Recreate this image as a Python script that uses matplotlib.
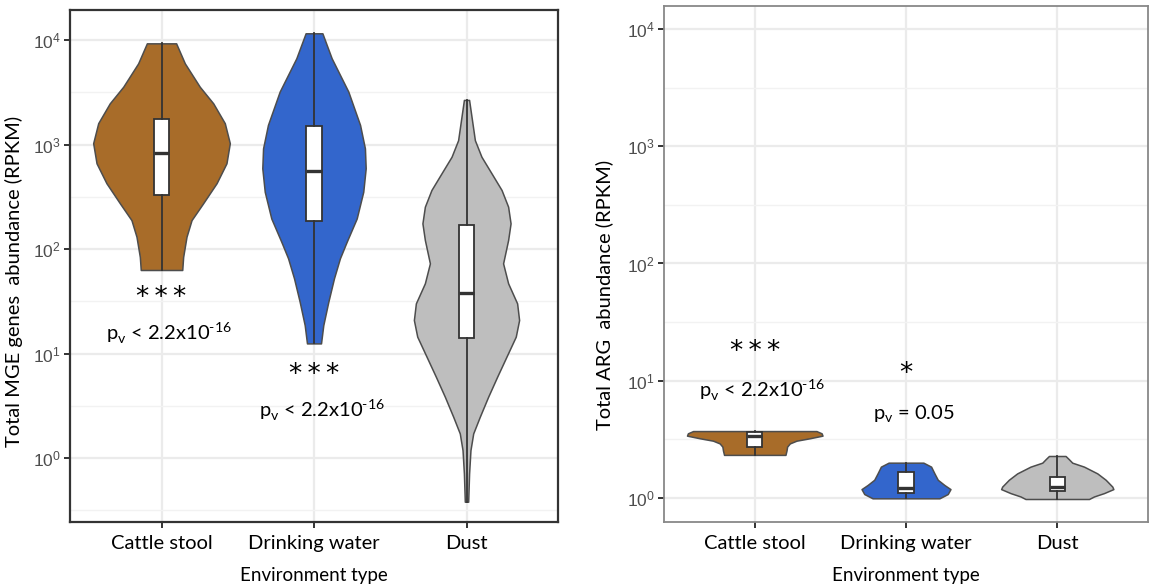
import matplotlib
matplotlib.use("Agg")
import matplotlib.pyplot as plt
import numpy as np
from matplotlib.ticker import FixedLocator, NullFormatter

# ---------------- data ----------------
categories = ["Cattle stool", "Drinking water", "Dust"]
colors = ["#A86C29", "#3366CC", "#BEBEBE"]

# Left panel: total MGE genes abundance (RPKM) - violin profiles (value, half-width)
mge_cattle_vals = [9290, 5980, 3570, 2480, 1600, 1030, 661, 426, 274, 189, 131, 84, 63]
mge_cattle_hw = [0.096, 0.153, 0.251, 0.339, 0.415, 0.448, 0.426, 0.361, 0.273, 0.197, 0.164, 0.142, 0.136]
mge_water_vals = [11590, 6680, 3210, 1540, 918, 592, 353, 196, 117, 81.5, 52.4, 31.3, 18.7, 12.5]
mge_water_hw = [0.055, 0.116, 0.225, 0.302, 0.334, 0.339, 0.323, 0.280, 0.214, 0.170, 0.131, 0.094, 0.061, 0.046]
mge_dust_vals = [2670, 1100, 764, 530, 367, 254, 176, 122, 72.9, 47.0, 30.2, 20.9, 14.5, 9.33, 6.0, 3.86,
                 2.48, 1.72, 1.19, 0.713, 0.382]
mge_dust_hw = [0.017, 0.055, 0.098, 0.164, 0.230, 0.273, 0.289, 0.273, 0.240, 0.273, 0.332, 0.345, 0.323,
               0.262, 0.201, 0.142, 0.087, 0.044, 0.026, 0.017, 0.011]
# box stats: (min, q1, median, q3, max)
mge_box = [(63, 329, 825, 1750, 9290),
           (12.5, 187, 557, 1514, 11590),
           (0.382, 14, 37.7, 170, 2670)]

# Right panel: total ARG abundance (RPKM)
arg_cattle_vals = [3.72, 3.56, 3.40, 3.23, 3.08, 2.92, 2.74, 2.54, 2.33]
arg_cattle_hw = [0.408, 0.442, 0.448, 0.364, 0.276, 0.232, 0.214, 0.210, 0.203]
arg_water_vals = [2.00, 1.85, 1.62, 1.43, 1.29, 1.19, 1.08, 0.993]
arg_water_hw = [0.115, 0.166, 0.188, 0.210, 0.254, 0.294, 0.276, 0.221]
arg_dust_vals = [2.28, 2.14, 2.00, 1.85, 1.62, 1.43, 1.25, 1.19, 1.10, 1.03, 0.98]
arg_dust_hw = [0.055, 0.077, 0.099, 0.177, 0.265, 0.320, 0.364, 0.371, 0.309, 0.243, 0.210]
arg_box = [(2.33, 2.70, 3.40, 3.63, 3.72),
           (0.993, 1.10, 1.22, 1.66, 2.00),
           (0.98, 1.15, 1.25, 1.52, 2.28)]

mge_profiles = [(mge_cattle_vals, mge_cattle_hw), (mge_water_vals, mge_water_hw), (mge_dust_vals, mge_dust_hw)]
arg_profiles = [(arg_cattle_vals, arg_cattle_hw), (arg_water_vals, arg_water_hw), (arg_dust_vals, arg_dust_hw)]

P_TXT = r"p$_{\mathdefault{v}}$ < 2.2x10$^{\mathdefault{‐16}}$"
STARS3 = "*\u2009*\u2009*"
# annotations: (category index, y value, text)
mge_stars = [(0, 34, STARS3), (1, 6.2, STARS3)]
mge_pvals = [(0, 15.5, P_TXT), (1, 2.85, P_TXT)]
arg_stars = [(0, 17.5, STARS3), (1, 11.3, "*")]
arg_pvals = [(0, 8.3, P_TXT), (1, 5.2, r"p$_{\mathdefault{v}}$ = 0.05")]

# ---------------- figure ----------------
W, H = 1150, 588
fig = plt.figure(figsize=(W / 100, H / 100), dpi=100)
fig.patch.set_facecolor("white")

TXT = "Lato"
TICKF = "Liberation Sans"


def panel(rect, ylim_log, profiles, boxes, stars, pvals, ylabel, frame_color, frame_lw, p_dx):
    ax = fig.add_axes(rect)
    ax.set_yscale("log")
    ax.set_xlim(0.4, 3.6)
    ax.set_ylim(10 ** ylim_log[0], 10 ** ylim_log[1])
    positions = np.arange(1, len(categories) + 1)

    # grid
    ax.yaxis.set_major_locator(FixedLocator([1, 10, 100, 1000, 10000]))
    ax.yaxis.set_minor_locator(FixedLocator([10 ** (k + 0.5) for k in range(-1, 5)]))
    ax.yaxis.set_minor_formatter(NullFormatter())
    ax.set_xticks(positions)
    ax.set_xticklabels(categories, fontfamily=TXT, fontsize=14.5, color="black")
    ax.grid(True, which="major", color="#EBEBEB", lw=1.6)
    ax.grid(True, which="minor", axis="y", color="#F2F2F2", lw=1.0)
    ax.set_axisbelow(True)
    ax.tick_params(axis="y", which="minor", length=0)
    ax.tick_params(axis="both", which="major", length=4.5, width=1.4, color="#333333")
    ax.tick_params(axis="y", labelsize=12.5, labelcolor="#4D4D4D", pad=2)
    ax.tick_params(axis="x", pad=5)
    for lab in ax.get_yticklabels():
        lab.set_fontfamily(TICKF)

    for sp in ax.spines.values():
        sp.set_color(frame_color)
        sp.set_linewidth(frame_lw)

    # violins
    for pos, (vals, hw), col in zip(positions, profiles, colors):
        v = np.array(vals, dtype=float)
        w = np.array(hw, dtype=float)
        ax.fill_betweenx(v, pos - w, pos + w, facecolor=col, edgecolor="#4D4D4D", lw=1.1, zorder=2)

    # boxplots
    stats = []
    for b in boxes:
        stats.append(dict(whislo=b[0], q1=b[1], med=b[2], q3=b[3], whishi=b[4], fliers=[]))
    ax.bxp(stats, positions=positions, widths=0.1, showfliers=False, showcaps=False,
           patch_artist=True, manage_ticks=False,
           boxprops=dict(facecolor="white", edgecolor="#333333", lw=1.3),
           whiskerprops=dict(color="#333333", lw=1.3),
           medianprops=dict(color="#333333", lw=2.4), zorder=3)

    for i, y, t in stars:
        ax.text(positions[i], y, t, ha="center", va="center", fontsize=19,
                fontfamily="DejaVu Sans", color="black", zorder=4)
    for i, y, t in pvals:
        ax.text(positions[i] + p_dx, y, t, ha="center", va="center", fontsize=14.5,
                fontfamily=TXT, color="black", zorder=4)

    ax.set_ylabel(ylabel, fontfamily=TXT, fontsize=14.5, color="black")
    ax.set_xlabel("Environment type", fontfamily=TXT, fontsize=13.5, color="black")
    return ax


ax1 = panel([70 / W, 66 / H, 488 / W, 512 / H], (-0.612, 4.287), mge_profiles, mge_box,
            mge_stars, mge_pvals, "Total MGE genes  abundance (RPKM)", "#333333", 1.6, 0.05)
ax1.yaxis.set_label_coords(-0.097, 0.47)
ax1.xaxis.set_label_coords(0.5, -0.087)

ax2 = panel([664 / W, 66 / H, 484 / W, 516 / H], (-0.205, 4.196), arg_profiles, arg_box,
            arg_stars, arg_pvals, "Total ARG  abundance (RPKM)", "#888888", 1.3, 0.05)
ax2.yaxis.set_label_coords(-0.105, 0.44)
ax2.xaxis.set_label_coords(0.5, -0.087)

fig.savefig("out.png", dpi=100, facecolor="white")
